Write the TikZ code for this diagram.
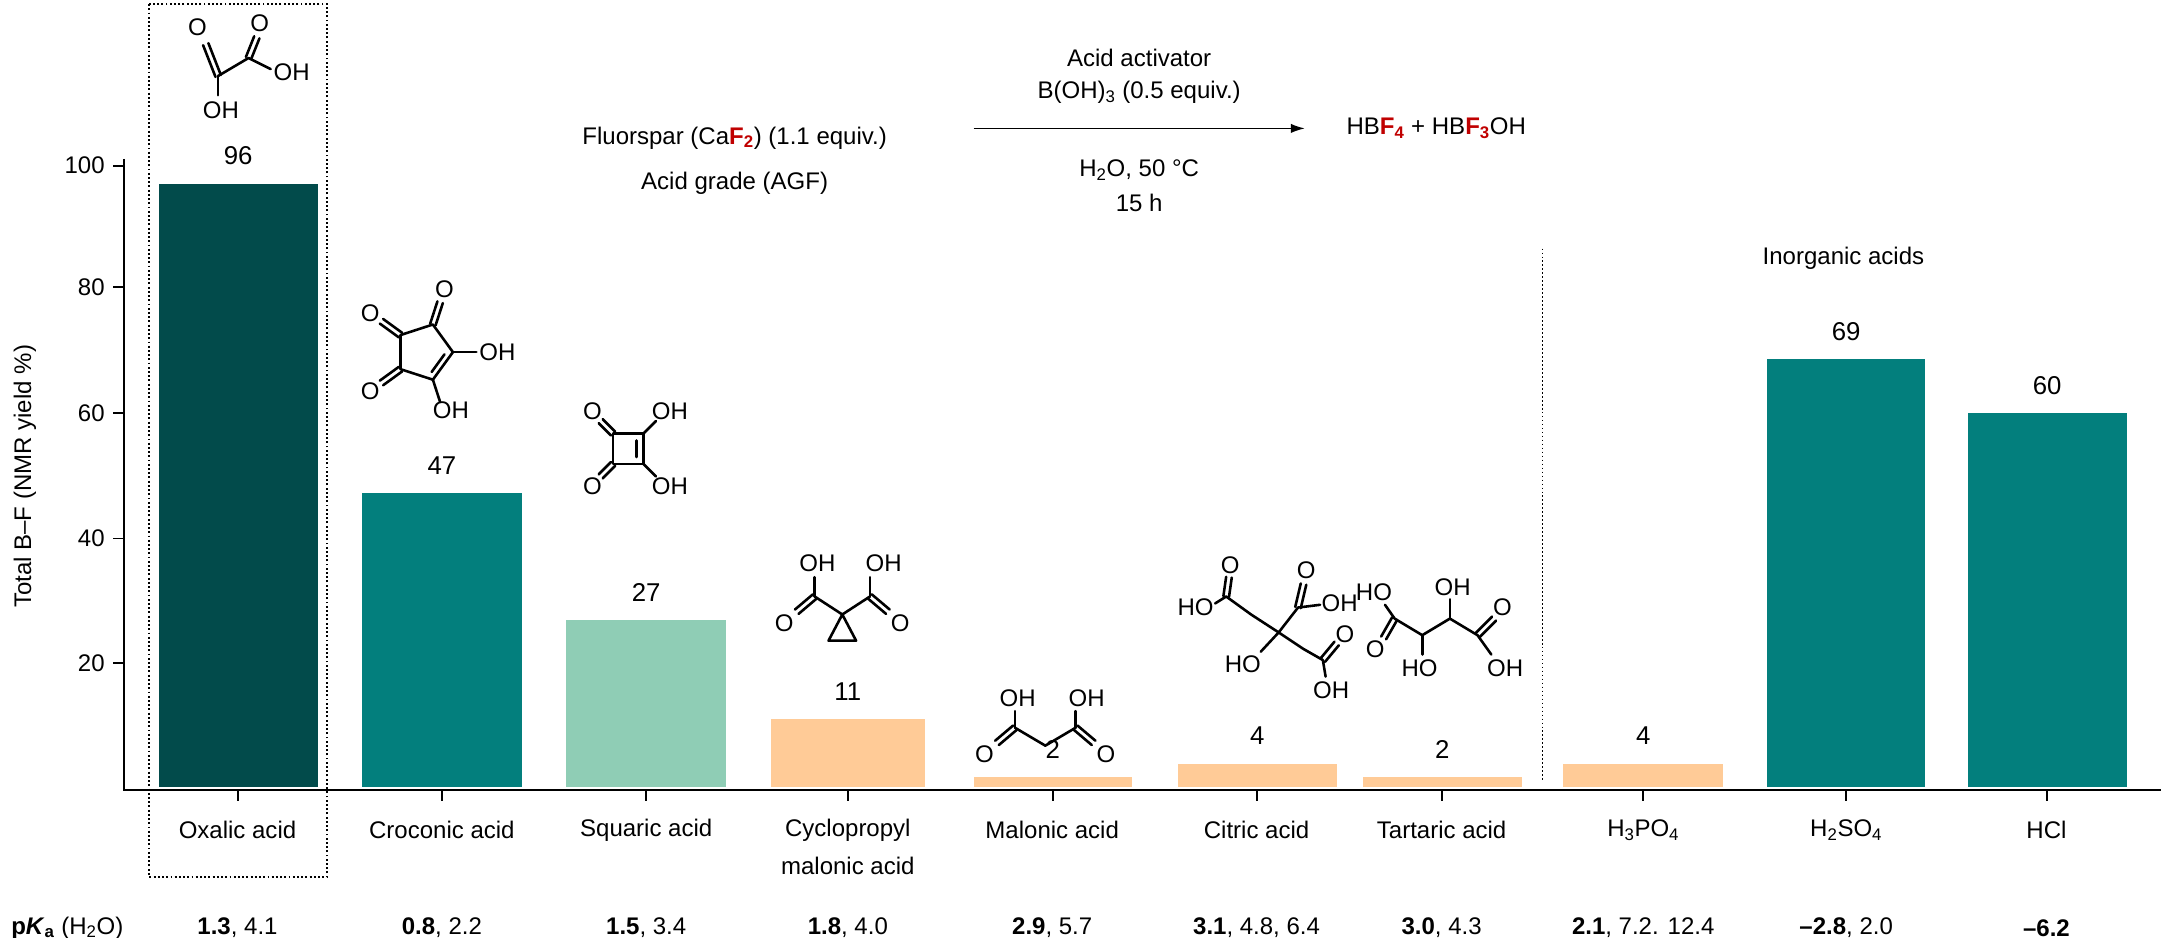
\documentclass[tikz,border=0pt]{standalone}
\usepackage{fontspec}
\setmainfont{Liberation Sans}
\usetikzlibrary{calc,arrows.meta}
\definecolor{dteal}{HTML}{024B4B}
\definecolor{mteal}{HTML}{037F7D}
\definecolor{lgreen}{HTML}{8FCDB5}
\definecolor{peach}{HTML}{FFCB97}
\definecolor{fred}{HTML}{C00000}
\newcommand\dbl[2]{\draw[bond] ($#1!0.085cm!90:#2$) -- ($#2!0.085cm!-90:#1$); \draw[bond] ($#1!0.085cm!-90:#2$) -- ($#2!0.085cm!90:#1$);}
\begin{document}
\begin{tikzpicture}[x=0.04143cm,y=-0.04143cm,
  txt/.style={inner sep=0pt,font=\fontsize{20.5}{24}\selectfont},
  val/.style={inner sep=0pt,font=\fontsize{22}{26}\selectfont},
  chem/.style={inner sep=0pt,font=\fontsize{20.5}{24}\selectfont},
  bond/.style={line width=2.2pt,line cap=round,line join=round},
  axis/.style={line width=1.4pt}]
\useasboundingbox (0,0) rectangle (1565,679);
% axes
\draw[axis] (90,115) -- (90,572) -- (1565,572);
\foreach \v/\y in {20/480,40/390,60/299,80/208,100/120}{
  \draw[axis] (82,\y) -- (90,\y);
  \node[txt,anchor=east] (yt\v) at (76,\y) {\v};}
\node[txt,rotate=90] (ylab) at (18,345) {Total B–F (NMR yield \%)};
% bars
\foreach \n/\a/\b/\t/\c/\v in {ox/115/230/133/dteal/96, cr/262/378/357/mteal/47, sq/410/526/449/lgreen/27, cy/558/670/521/peach/11, ma/705/820/563/peach/2, ci/853/968/553/peach/4, ta/987/1102/563/peach/2, hp/1132/1248/553/peach/4, hs/1280/1394/260/mteal/69, hc/1425/1540/299/mteal/60}{
  \fill[\c] (\a,570) rectangle (\b,\t);
  \node[val] (v\n) at ({(\a+\b)/2},\t-20) {\v};
  \draw[axis] ({(\a+\b)/2},572) -- ({(\a+\b)/2},580);}
% category labels
\foreach \n/\x/\t in {ox/172/Oxalic acid, cr/320/Croconic acid, sq/468/Squaric acid, cy/614/Cyclopropyl, ma/762/Malonic acid, ci/910/Citric acid, ta/1044/Tartaric acid, hp/1190/H\textsubscript{3}PO\textsubscript{4}, hs/1337/H\textsubscript{2}SO\textsubscript{4}, hc/1482/HCl}{
  \node[txt] (c\n) at (\x,601) {\t};}
\node[txt] (cy2) at (614,627) {malonic acid};
% pKa
\node[txt,anchor=west] (pk) at (8,672) {\textbf{p\textit{K}\textsubscript{a}} (H\textsubscript{2}O)};
\foreach \n/\x/\t in {ox/172/{\textbf{1.3}, 4.1}, cr/320/{\textbf{0.8}, 2.2}, sq/468/{\textbf{1.5}, 3.4}, cy/614/{\textbf{1.8}, 4.0}, ma/762/{\textbf{2.9}, 5.7}, ci/910/{\textbf{3.1}, 4.8, 6.4}, ta/1044/{\textbf{3.0}, 4.3}, hp/1190/{\textbf{2.1}, 7.2. 12.4}, hs/1337/{\textbf{–2.8}, 2.0}, hc/1482/{\textbf{–6.2}}}{
  \node[txt] (p\n) at (\x,672) {\t};}
% dotted box and separator
\draw[line width=1.6pt,dotted] (108,3) rectangle (237,635);
\draw[line width=1.4pt,dotted] (1117,180) -- (1117,565);
\node[txt] (inorg) at (1335,187) {Inorganic acids};
% reaction
\node[txt] (r1) at (532,100) {Fluorspar (Ca\textbf{\textcolor{fred}{F\textsubscript{2}}}) (1.1 equiv.)};
\node[txt] (r2) at (532,133) {Acid grade (AGF)};
\coordinate (arS) at (705,93); \coordinate (arE) at (945,93);
\draw[line width=1.4pt,-{Latex[length=12pt,width=8pt]}] (arS) -- (arE);
\node[txt] (a1) at (825,42) {Acid activator};
\node[txt] (a2) at (825,67) {B(OH)\textsubscript{3} (0.5 equiv.)};
\node[txt] (a3) at (825,123) {H\textsubscript{2}O, 50 °C};
\node[txt] (a4) at (825,147) {15 h};
\node[txt,anchor=west] (prod) at (975,93) {HB\textbf{\textcolor{fred}{F\textsubscript{4}}} + HB\textbf{\textcolor{fred}{F\textsubscript{3}}}OH};
% ---- oxalic
\node[chem] (oxO1) at (143,20) {O};
\node[chem] (oxO2) at (188,17) {O};
\node[chem,anchor=west] (oxOH1) at (198,52) {OH};
\node[chem] (oxOH2) at (160,80) {OH};
\draw[bond] (158,55) -- (180,42) -- (196,50);
\draw[bond] (158,55) -- (158,69);
\dbl{(158,55)}{(149,32)}
\dbl{(180,42)}{(186,27)}
% ---- croconic
\coordinate (cc) at (307,255);
\foreach \i/\a in {0/0,1/-72,2/-144,3/-216,4/-288}{
  \coordinate (k\i) at ($(cc)+(\a:21)$);
  \coordinate (s\i) at ($(cc)+(\a:38)$);}
\draw[bond] (k0)--(k1)--(k2)--(k3)--(k4)--cycle;
\draw[bond] ($(k0)!0.18!(k4)+(-3.5,-2)$) -- ($(k0)!0.82!(k4)+(-3.5,-2)$);
\dbl{(k1)}{(s1)} \dbl{(k2)}{(s2)} \dbl{(k3)}{(s3)}
\draw[bond] (k0)--(s0); \draw[bond] (k4)--(s4);
\node[chem] (crO1) at ($(cc)+(-72:48)$) {O};
\node[chem] (crO2) at ($(cc)+(-144:48)$) {O};
\node[chem] (crO3) at ($(cc)+(-216:48)$) {O};
\node[chem,anchor=west] (crOH1) at ($(cc)+(0:40)$) {OH};
\node[chem,anchor=north west] (crOH2) at ($(cc)+(-288:40)+(-6,-2)$) {OH};
% ---- squaric
\draw[bond] (444,314) rectangle (466,336);
\draw[bond] (461,319) -- (461,331);
\dbl{(444,314)}{(435,305)} \dbl{(444,336)}{(435,345)}
\draw[bond] (466,314) -- (475,305); \draw[bond] (466,336) -- (475,345);
\node[chem] (sqO1) at (429,298) {O};
\node[chem] (sqO2) at (429,352) {O};
\node[chem,anchor=west] (sqOH1) at (472,298) {OH};
\node[chem,anchor=west] (sqOH2) at (472,352) {OH};
% ---- cyclopropyl malonic
\draw[bond] (590,432) -- (610,445) -- (630,432);
\draw[bond] (610,445) -- (600,464) -- (620,464) -- cycle;
\draw[bond] (590,432) -- (590,418); \draw[bond] (630,432) -- (630,418);
\dbl{(590,432)}{(577,443)} \dbl{(630,432)}{(643,443)}
\node[chem] (cyOH1) at (592,408) {OH};
\node[chem] (cyOH2) at (640,408) {OH};
\node[chem] (cyO1) at (568,451) {O};
\node[chem] (cyO2) at (652,451) {O};
% ---- malonic
\draw[bond] (735,527) -- (757,540) -- (779,527);
\draw[bond] (735,527) -- (735,515); \draw[bond] (779,527) -- (779,515);
\dbl{(735,527)}{(722,538)} \dbl{(779,527)}{(792,538)}
\node[chem] (maOH1) at (737,506) {OH};
\node[chem] (maOH2) at (787,506) {OH};
\node[chem] (maO1) at (713,546) {O};
\node[chem] (maO2) at (801,546) {O};
% ---- citric
\draw[bond] (880,437) -- (888,432) -- (906,445) -- (926,458) -- (940,440) -- (956,438);
\draw[bond] (926,458) -- (913,472);
\draw[bond] (926,458) -- (944,470) -- (958,478) -- (960,490);
\dbl{(888,432)}{(890,418)} \dbl{(940,440)}{(944,423)} \dbl{(958,478)}{(968,466)}
\node[chem,anchor=east] (ciHO1) at (879,440) {HO};
\node[chem] (ciO1) at (891,409) {O};
\node[chem] (ciO2) at (946,413) {O};
\node[chem,anchor=west] (ciOH1) at (957,437) {OH};
\node[chem] (ciHO2) at (900,481) {HO};
\node[chem] (ciO3) at (974,459) {O};
\node[chem] (ciOH2) at (964,500) {OH};
% ---- tartaric
\draw[bond] (1003,438) -- (1010,448) -- (1030,460) -- (1050,448) -- (1070,460) -- (1080,474);
\draw[bond] (1030,460) -- (1030,474); \draw[bond] (1050,448) -- (1050,434);
\dbl{(1010,448)}{(1002,462)} \dbl{(1070,460)}{(1082,448)}
\node[chem] (taHO1) at (995,429) {HO};
\node[chem] (taO1) at (996,470) {O};
\node[chem] (taOH1) at (1052,425) {OH};
\node[chem] (taHO2) at (1028,484) {HO};
\node[chem] (taO2) at (1088,440) {O};
\node[chem] (taOH2) at (1090,484) {OH};
\end{tikzpicture}
\end{document}
